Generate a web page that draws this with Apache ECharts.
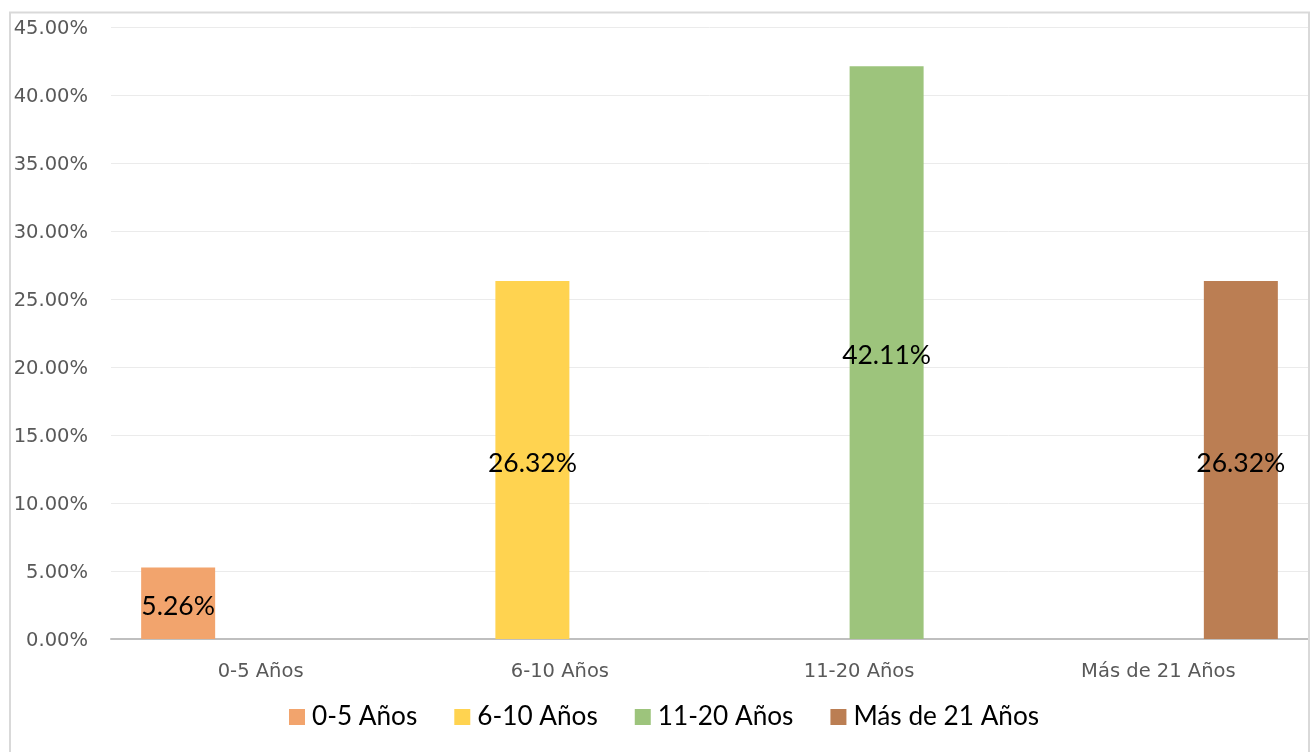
<!DOCTYPE html>
<html>
<head>
<meta charset="utf-8">
<script src="https://cdn.jsdelivr.net/npm/echarts@6/dist/echarts.min.js"></script>
<style>
html,body{margin:0;padding:0;background:#fff;}
#chart{width:1316px;height:752px;}
</style>
</head>
<body>
<div id="chart"></div>
<script>
const categories = ['0-5 Años', '6-10 Años', '11-20 Años', 'Más de 21 Años'];
const seriesNames = ['0-5 Años', '6-10 Años', '11-20 Años', 'Más de 21 Años'];
const values = [5.26, 26.32, 42.11, 26.32];
const colors = ['#F2A46D', '#FFD350', '#9DC47C', '#BB7E53'];
const yTicks = { min: 0, max: 45, interval: 5 };

const chart = echarts.init(document.getElementById('chart'), null, { renderer: 'canvas' });

const series = seriesNames.map((name, i) => ({
  name: name,
  type: 'bar',
  barWidth: 74,
  barGap: '-25.7%',
  itemStyle: { color: colors[i] },
  label: {
    show: true,
    position: 'inside',
    offset: [0, 3],
    color: '#000',
    fontFamily: 'Lato',
    fontSize: 26.5,
    formatter: p => p.value.toFixed(2) + '%'
  },
  data: categories.map((c, j) => (j === i ? values[i] : null))
}));

chart.setOption({
  animation: false,
  backgroundColor: '#fff',
  color: colors,
  graphic: [{
    type: 'rect',
    shape: { x: 10, y: 12.5, width: 1299, height: 760 },
    style: { fill: 'none', stroke: '#d9d9d9', lineWidth: 2 },
    silent: true,
    z: 100
  }],
  grid: { left: 111, right: 8, top: 27, bottom: 113, containLabel: false },
  legend: {
    bottom: 17,
    left: 284,
    itemWidth: 16,
    itemHeight: 16,
    itemGap: 37,
    icon: 'rect',
    textStyle: { fontFamily: 'Lato', fontSize: 26.2, color: '#000', padding: [0, 0, 0, 2] },
    data: seriesNames
  },
  xAxis: {
    type: 'category',
    data: categories,
    axisTick: { show: false },
    axisLine: { lineStyle: { color: '#bfbfbf', width: 2 } },
    axisLabel: { fontFamily: 'DejaVu Sans', fontSize: 19.5, color: '#595959', margin: 23 }
  },
  yAxis: {
    type: 'value',
    min: yTicks.min,
    max: yTicks.max,
    interval: yTicks.interval,
    axisLine: { show: false },
    axisTick: { show: false },
    splitLine: { lineStyle: { color: '#ebebeb', width: 1 } },
    axisLabel: {
      fontFamily: 'DejaVu Sans', fontSize: 19.5, color: '#595959', margin: 23,
      verticalAlign: 'top', padding: [-8, 0, 0, 0],
      formatter: v => v.toFixed(2) + '%'
    }
  },
  series: series
});
</script>
</body>
</html>
